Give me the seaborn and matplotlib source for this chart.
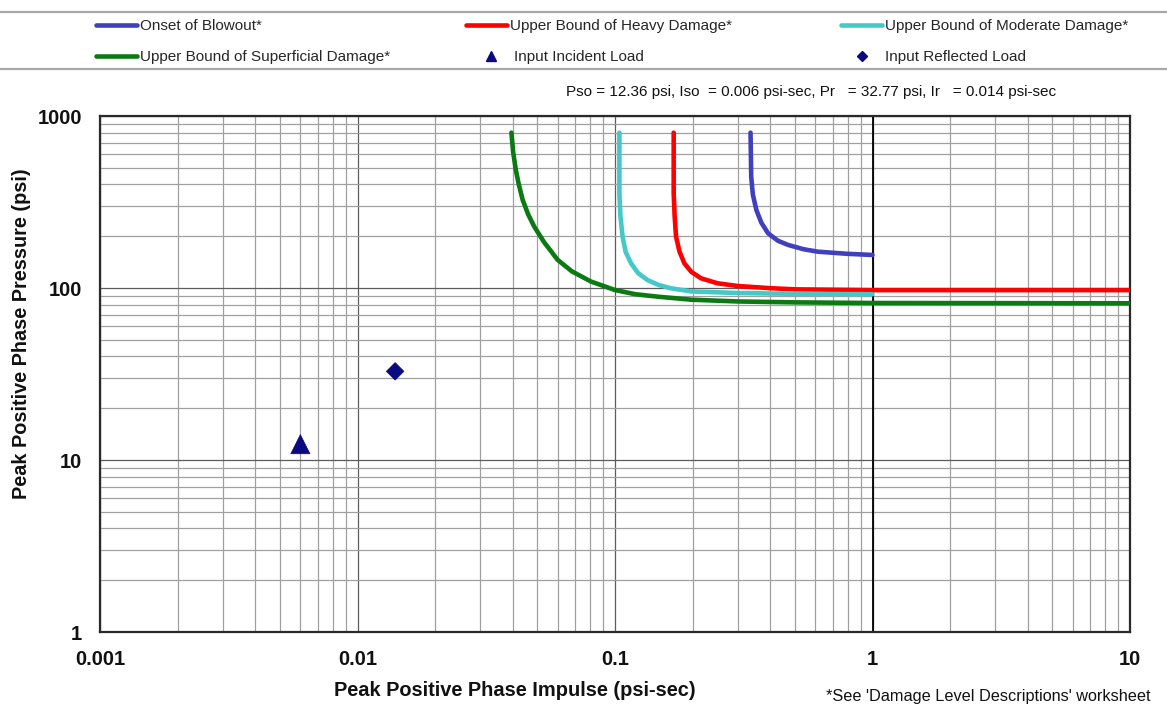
import numpy as np
import pandas as pd
import matplotlib
matplotlib.use("Agg")
import matplotlib.pyplot as plt
from matplotlib.lines import Line2D
from matplotlib.ticker import LogLocator, NullFormatter
import seaborn as sns

# ---- damage-level curves: peak impulse (psi-sec) vs peak pressure (psi) ----
series_names = [
    "Onset of Blowout*",
    "Upper Bound of Heavy Damage*",
    "Upper Bound of Moderate Damage*",
    "Upper Bound of Superficial Damage*",
]

blowout_impulse = [0.336, 0.337, 0.338, 0.343, 0.354, 0.37, 0.393, 0.43, 0.47, 0.54, 0.614, 0.8, 1.0]
blowout_pressure = [800, 600, 444, 350, 284, 240, 208, 188, 178, 168, 162.6, 158, 155.6]

heavy_impulse = [0.169, 0.169, 0.169, 0.1705, 0.1726, 0.178, 0.186, 0.198, 0.216, 0.25, 0.3, 0.4, 0.5, 1.0, 10.0]
heavy_pressure = [800, 500, 355, 260, 199, 163, 139, 124, 113.8, 106.5, 102.7, 99.8, 98.2, 97.2, 97.2]

moderate_impulse = [0.104, 0.104, 0.104, 0.105, 0.107, 0.11, 0.1155, 0.123, 0.134, 0.148, 0.165, 0.198, 0.3, 0.5, 1.0]
moderate_pressure = [800, 500, 355, 260, 199, 162, 139, 122, 111, 104, 99.6, 95.5, 93.5, 92.5, 92.0]

superficial_impulse = [0.0396, 0.0402, 0.0412, 0.0423, 0.0438, 0.046, 0.0486, 0.053, 0.0598, 0.068,
                       0.0807, 0.1, 0.12, 0.147, 0.198, 0.3, 0.5, 1.0, 10.0]
superficial_pressure = [800, 620, 486, 400, 325, 268, 227, 185, 146, 125,
                        109, 97.3, 92, 89, 85.5, 83.5, 82.5, 81.8, 81.5]

# ---- input loads ----
load_names = ["Input Incident Load", "Input Reflected Load"]
load_impulse = [0.006, 0.014]
load_pressure = [12.36, 32.77]

# ---- axis ticks ----
x_ticks = [0.001, 0.01, 0.1, 1, 10]
x_tick_labels = ["0.001", "0.01", "0.1", "1", "10"]
y_ticks = [1, 10, 100, 1000]
y_tick_labels = ["1", "10", "100", "1000"]

curve_colors = {
    series_names[0]: "#4040bf",
    series_names[1]: "#ff0000",
    series_names[2]: "#45c8c8",
    series_names[3]: "#0b7a12",
}
load_color = "#0a0a80"

curve_table = pd.concat([
    pd.DataFrame({"impulse": xs, "pressure": ys, "series": name})
    for name, xs, ys in zip(
        series_names,
        [blowout_impulse, heavy_impulse, moderate_impulse, superficial_impulse],
        [blowout_pressure, heavy_pressure, moderate_pressure, superficial_pressure],
    )
], ignore_index=True)
load_table = pd.DataFrame({"impulse": load_impulse, "pressure": load_pressure, "load": load_names})

sns.set_theme(style="white")
plt.rcParams["font.family"] = ["Liberation Sans", "DejaVu Sans"]
narrow = ["Liberation Sans Narrow", "Liberation Sans", "DejaVu Sans"]

W, H = 1167, 708
fig = plt.figure(figsize=(W / 100, H / 100), dpi=100)
fig.patch.set_facecolor("white")

def fx(px):
    return px / W

def fy(py):
    return 1 - py / H

ax = fig.add_axes([fx(100), fy(632), fx(1130) - fx(100), fy(116) - fy(632)])
ax.set_xscale("log")
ax.set_yscale("log")

sns.lineplot(data=curve_table, x="impulse", y="pressure", hue="series",
             palette=curve_colors, sort=False, estimator=None,
             linewidth=3.3, legend=False, ax=ax, zorder=3)
sns.scatterplot(data=load_table, x="impulse", y="pressure", style="load",
                markers={load_names[0]: "^", load_names[1]: "D"},
                size="load", sizes={load_names[0]: 190, load_names[1]: 80},
                color=load_color, edgecolor=load_color, linewidth=0.5,
                legend=False, ax=ax, zorder=4)

ax.set_xlim(0.001, 10)
ax.set_ylim(1, 1000)
ax.set_xticks(x_ticks, labels=x_tick_labels)
ax.set_yticks(y_ticks, labels=y_tick_labels)
ax.xaxis.set_minor_locator(LogLocator(base=10, subs=np.arange(2, 10)))
ax.yaxis.set_minor_locator(LogLocator(base=10, subs=np.arange(2, 10)))
ax.xaxis.set_minor_formatter(NullFormatter())
ax.yaxis.set_minor_formatter(NullFormatter())
ax.tick_params(which="both", length=0)
ax.tick_params(axis="x", pad=13, labelsize=14.5)
ax.tick_params(axis="y", pad=13, labelsize=14.5)
for lab in ax.get_xticklabels() + ax.get_yticklabels():
    lab.set_fontweight("bold")
    lab.set_color("#111111")
ax.set_xlabel("")
ax.set_ylabel("")

ax.grid(True, which="major", color="#5c5c5c", linewidth=0.9)
ax.grid(True, which="minor", color="#a0a0a0", linewidth=0.9)
ax.set_axisbelow(True)
ax.axvline(1, color="black", linewidth=1.3, zorder=2)
for sp in ax.spines.values():
    sp.set_visible(True)
    sp.set_color("#2a2a2a")
    sp.set_linewidth(1.6)

# axis titles
fig.text(fx(22), fy(334), "Peak Positive Phase Pressure (psi)", rotation=90,
         ha="center", va="center", fontsize=14.3, fontweight="bold", color="#111111")
fig.text(fx(515), fy(690), "Peak Positive Phase Impulse (psi-sec)",
         ha="center", va="center", fontsize=14.4, fontweight="bold", color="#111111")

# summary of the input loads
fig.text(fx(566), fy(92),
         "Pso = 12.36 psi, Iso  = 0.006 psi-sec, Pr   = 32.77 psi, Ir   = 0.014 psi-sec",
         ha="left", va="center", fontsize=11, family=narrow, color="#111111")
fig.text(fx(1150), fy(697), "*See 'Damage Level Descriptions' worksheet",
         ha="right", va="center", fontsize=11.7, family=narrow, color="#111111")

# legend band
for py in (11.5, 69):
    fig.add_artist(Line2D([0, 1], [fy(py), fy(py)], transform=fig.transFigure,
                          color="#a8a8a8", linewidth=1.6))

legend_entries = [
    (Line2D([], [], color=curve_colors[series_names[0]], lw=3.3), series_names[0], 96, 26),
    (Line2D([], [], color=curve_colors[series_names[1]], lw=3.3), series_names[1], 466, 26),
    (Line2D([], [], color=curve_colors[series_names[2]], lw=3.3), series_names[2], 841, 26),
    (Line2D([], [], color=curve_colors[series_names[3]], lw=3.3), series_names[3], 96, 57),
    (Line2D([], [], color=load_color, marker="^", ls="none", markersize=7), load_names[0], 470, 57),
    (Line2D([], [], color=load_color, marker="D", ls="none", markersize=5), load_names[1], 841, 57),
]
for handle, label, px, py in legend_entries:
    fig.legend([handle], [label], loc="center left", bbox_to_anchor=(fx(px), fy(py)),
               frameon=False, fontsize=11, handlelength=2.7, handletextpad=0.15,
               borderpad=0, borderaxespad=0)

fig.savefig("out.png", dpi=100, facecolor="white")
